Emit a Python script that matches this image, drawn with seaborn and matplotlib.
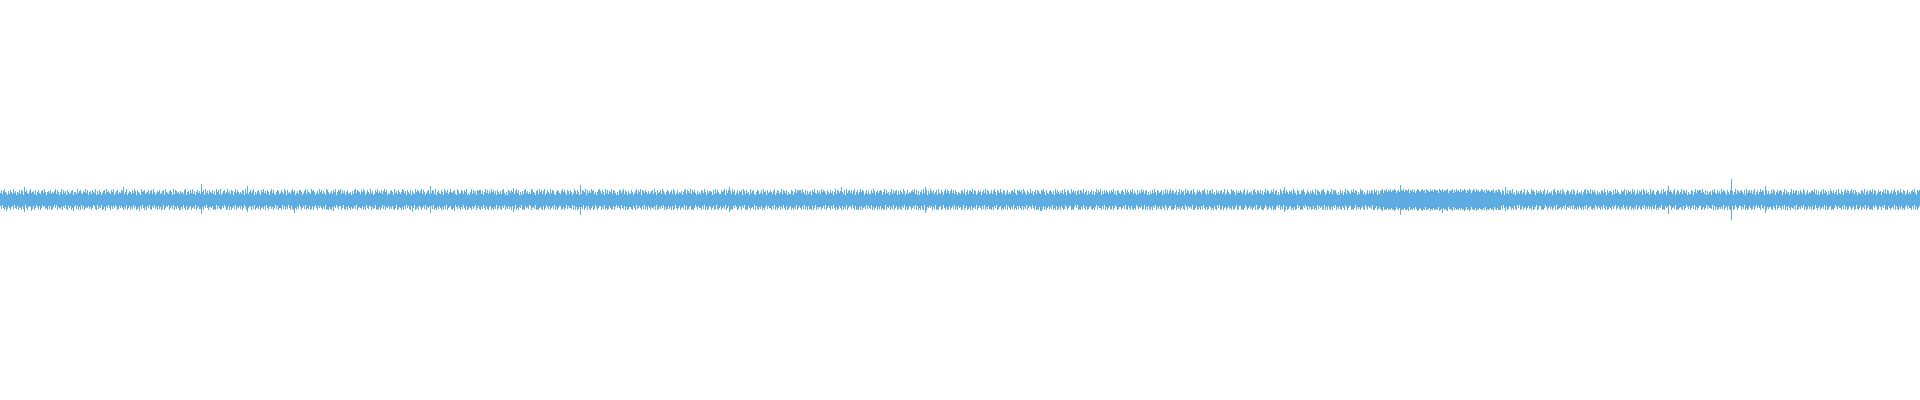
import numpy as np
import pandas as pd
import matplotlib
matplotlib.use("Agg")
import matplotlib.pyplot as plt
import seaborn as sns

# waveform peaks, one column per pixel, amplitude in px above / below the centre line
# (base-36 digits: 8 = 8px, a = 10px, ...)
top_rows = [
    "7a69b87596" "a86b79587a" "6a95d8a769" "b7896a58a7" "69a7b85897" "a6879b6a85",
    "8b6a795a86" "79a5886b79" "a7698b7a58" "96a87b596a" "8579a6b897" "6a8b579a68",
    "7a9d68b579" "86a7b95a87" "5b89a678a6" "9a6b85798a" "679a5b8769" "a85b6a9786",
    "9786ab5896" "a7b6958a79" "6g8a5b796a" "87a695b8a6" "b579a68b79" "6a958b7a86",
    "86a95b7e68" "a79b5869a7" "5a8b796a85" "9b7a658a96" "7a86b95a78" "69b8a5796a",
    "a8579b6a87" "6b9a85796b" "8a6975ba86" "796a8b58a9" "b6a7958a67" "8596ab7a98",
    "6a8b957a86" "b7956a8b79" "7a69b8a576" "9a85b796a8" "68ba795a86" "a5976b8a97",
    "9b6a8579a6" "e7a96b58a7" "6a85b97a68" "b879a65b96" "7a96a8b575" "8b6a795a9a",
    "a6958b7a69" "7b8a695a86" "96ab7585a9" "7a8c69b7a5" "8596ab7968" "6ba8759a6b",
    "8a69b57a86" "b7a9658a97" "69b8a75a96" "a857b96a85" "f6a98b5a79" "7b9a6858ab",
    "96a85b7a69" "8b6a97585a" "a79b6a8597" "6a8579b6a8" "b5a97a8696" "79a6b85a78",
    "a6b9758a96" "8a6b957a68" "7958ab6a97" "b6a8a75968" "6a97b85a79" "985a6b7a86",
    "6a89b5a7ad" "96b8a57a69" "8a5b96a785" "b79a658a96" "7a6b895a78" "a869b57a96",
    "8b6a97a586" "6a958b7a9a" "a7b86a5968" "95a8b76a79" "6b8a975a86" "a7958b6a97",
    "9d86a5b79a" "7a69b58a68" "b8a957a696" "6a7b958a79" "a958b6a785" "8b6a79a596",
    "a86b957a68" "79a8b6a595" "8a6b7da596" "b97a68a5b7" "6a859b7a96" "9b7a6a8587",
    "6a97b58a69" "a8b6a957a8" "958a7b6a96" "7a69b85a97" "b86a957a68" "69a8b75a9a",
    "8a6b975a86" "b7958a6a97" "6a9b85a769" "a8695b7a86" "97a6b85a97" "6b8a7959a6",
    "a97b68a596" "8a6958b7a8" "b596a7a869" "7a8b695a97" "69a85b7a86" "a8b6975a69",
    "7b8a69a585" "96a7b85a97" "8a596b7a69" "b7a968a58b" "6a895b7a96" "9a6b857a8a",
    "86a9b75a69" "a7b685a796" "9a68b57a86" "6b9a85a797" "a869b57a68" "795ab86a97",
    "a6958b7a96" "7a8b69a585" "b96ad7a869" "8a6b975a96" "6a9b857a86" "97a86b5a98",
    "69ab857a96" "8b6a9a7585" "a7958b6a97" "6a8b7a9586" "b9a6857a69" "7a96b8a596",
    "9ab7a9b8a9" "b8a9ba79a8" "fa9b8aa9b7" "a9b8a79ba9" "8ab9a7ba98" "b9a8ba9a7b",
    "a9b8a9ab79" "9ab7a8b9a8" "b8a9ba7a9b" "a79ba8b9a8" "9ba8a7b9a9" "8a9b79a8ba",
    "86a95d7a69" "a7b685a796" "9a68b57a86" "6b9a85a797" "a869b57a68" "795ab86a97",
    "a6b9758a96" "8a6b957a68" "7958ab6a97" "b6a8a75968" "6a97b85a79" "985a6b7a86",
    "6a89b5a7a8" "96b8a57a69" "8a5b96a785" "b79a658a96" "7a6b895ae8" "a869b57a96",
    "8b6a97a586" "6a958b7a9a" "a7b86a5968" "95a8b76a79" "6b8a975a86" "al958b6a97",
    "9a86a5b79a" "7a69b58a68" "b8a95ea696" "6a7b958a79" "a958b6a785" "8b6a79a596",
    "a86b957a68" "79a8b6a595" "8a6b7a8596" "b97a68a5b7" "6a859b7a96" "9b7a6a8587",
    "6a97b58a69" "a8b6a957a8" "958a7b6a96" "7a69b85a97" "b86a957a68" "69a8b75a9a",
]

bottom_rows = [
    "6958a7b968" "a7695896a7" "8a69c58a76" "7b96a85796" "a857698a69" "6a97585a78",
    "97a6859a68" "6a8b7596a7" "a596a87869" "7a8569a597" "85a97b6858" "a696857a96",
    "868a795a86" "a79586a97b" "6958a7a685" "9a68597a69" "7a95a8675a" "8695a7968a",
    "a7958a6a97" "6a8795a869" "9e7a6858a7" "786a9a5968" "a96857a96a" "7a8695a786",
    "96a857ac86" "7a695a8796" "a8796a58a7" "697a8596a8" "8a596a7958" "a69ad8a795",
    "7a8695a896" "a96a758a68" "68a795a9a7" "9a7b685796" "6a859a7a68" "a798695a87",
    "896a7a5896" "6a7985a9a7" "a8596a7869" "7969a85a97" "8a7a695869" "a6c85a97a6",
    "7a8695a786" "d695a8a796" "8a7a695a87" "69a8b57968" "a7958a6a97" "8a6975a869",
    "a7958a69a7" "6a8a795a86" "9a685a7969" "7a6c95a8a7" "85a9a68795" "6a8795a9a8",
    "79a6a85796" "a8695a7a86" "6a97a85968" "895a6a7a97" "f795a86a69" "a86a957a86",
    "6a795a8a96" "8a96a75868" "a5896a7a97" "79a68a5986" "8a695a7a68" "a7896a5a97",
    "9685a7a969" "7a6a958a86" "a8795a6a97" "6a9a857968" "8a695a7a96" "7a86a959a8",
    "6a8795a86c" "a9a6857a96" "7a685a9a68" "a8795a69a7" "96a8a75968" "8a695a7a86",
    "a7958a6a97" "6a8a795a86" "8a695a7a69" "9a6a85a797" "7a8695a868" "a6958a7a96",
    "8a6a795a86" "7958a6a9a7" "a6a8795968" "95a7a86a79" "6a8a95a786" "a795a86a97",
    "9a685a7a96" "7a8695a6a8" "a69a5da786" "86a795a9a7" "6a958a7a96" "a8695a7a68",
    "7a95a86a97" "a6a8795a86" "8a695a7969" "9a7a685a97" "6a8a795a68" "a795a8a696",
    "8a6a795a86" "7958a6a9a7" "bb96a7a869" "795a8a6a97" "a68a957a86" "6a9a7585a9",
    "a7958a6a97" "69a8a75968" "8a695a7a86" "a96a857a97" "7a86959a68" "a69a8a5797",
    "86a95a7a69" "a7a685a796" "9a68a57a86" "6a9a85a797" "a869a57a68" "795aa86a97",
    "a6958a7a96" "7a8a69a585" "a96a87a869" "8a6a975a96" "6a9a857a86" "97a86a5a98",
    "69aa857a96" "8a6a9a7585" "a795ca6a97" "6a8a7a9586" "a9a6857a69" "7a96a8a596",
    "86a95a7a69" "a7a685a796" "9a68a57a86" "6a9a85a797" "a869a57a68" "795aa86a97",
    "9ab7a9a8a9" "a8a9ba79a8" "fa9a8aa9b7" "a9a8a79ba9" "8ab9a7aa98" "b9a8aa9a7b",
    "a9d8a9ab79" "9ab7a8a9a8" "a8a9ba7a9b" "a79aa8b9a8" "9aa8a7b9a9" "8a9b79a8aa",
    "a6958b7a96" "7a8a69a585" "a96a87a869" "8a6a975a96" "6a9a857a86" "97a86a5a98",
    "7a8695a786" "9695a8a796" "8a7a695a87" "69a8a57968" "a7958a6a97" "8a6975a869",
    "a7958a69a7" "6a8a795a86" "9a685a7969" "7a6995a8a7" "85a9a687e5" "6a8795a9a8",
    "79a6a85796" "a8695a7a86" "6a97a85968" "895a6a7a97" "9795a86a69" "ak6a957a86",
    "6a795a8a96" "8a96a75868" "a5896da797" "79a68a5986" "8a695a7a68" "a7896a5a97",
    "9685a7a969" "7a6a958a86" "a8795a6a97" "6a9a857968" "8a695a7a96" "7a86a959a8",
    "6a8795a869" "a9a6857a96" "7a685a9a68" "a8795a69a7" "96a8a75968" "8a695a7a86",
]

top_amp = [int(c, 36) for c in "".join(top_rows)]
bottom_amp = [int(c, 36) for c in "".join(bottom_rows)]
n = min(len(top_amp), len(bottom_amp))

df = pd.DataFrame({
    "col": np.arange(n),
    "top": top_amp[:n],
    "bottom": [-v for v in bottom_amp[:n]],
})

wave_color = "#5dade2"

sns.set_theme(style="white")
fig = plt.figure(figsize=(19.2, 4), dpi=100)
ax = fig.add_axes([0, 0, 1, 1])

sns.barplot(data=df, x="col", y="top", native_scale=True, width=1,
            color=wave_color, saturation=1, errorbar=None, linewidth=0, ax=ax)
sns.barplot(data=df, x="col", y="bottom", native_scale=True, width=1,
            color=wave_color, saturation=1, errorbar=None, linewidth=0, ax=ax)

ax.set_xlim(-0.5, n - 0.5)
ax.set_ylim(-200, 200)
ax.axis("off")

fig.savefig("out.png", dpi=100, facecolor="white")
